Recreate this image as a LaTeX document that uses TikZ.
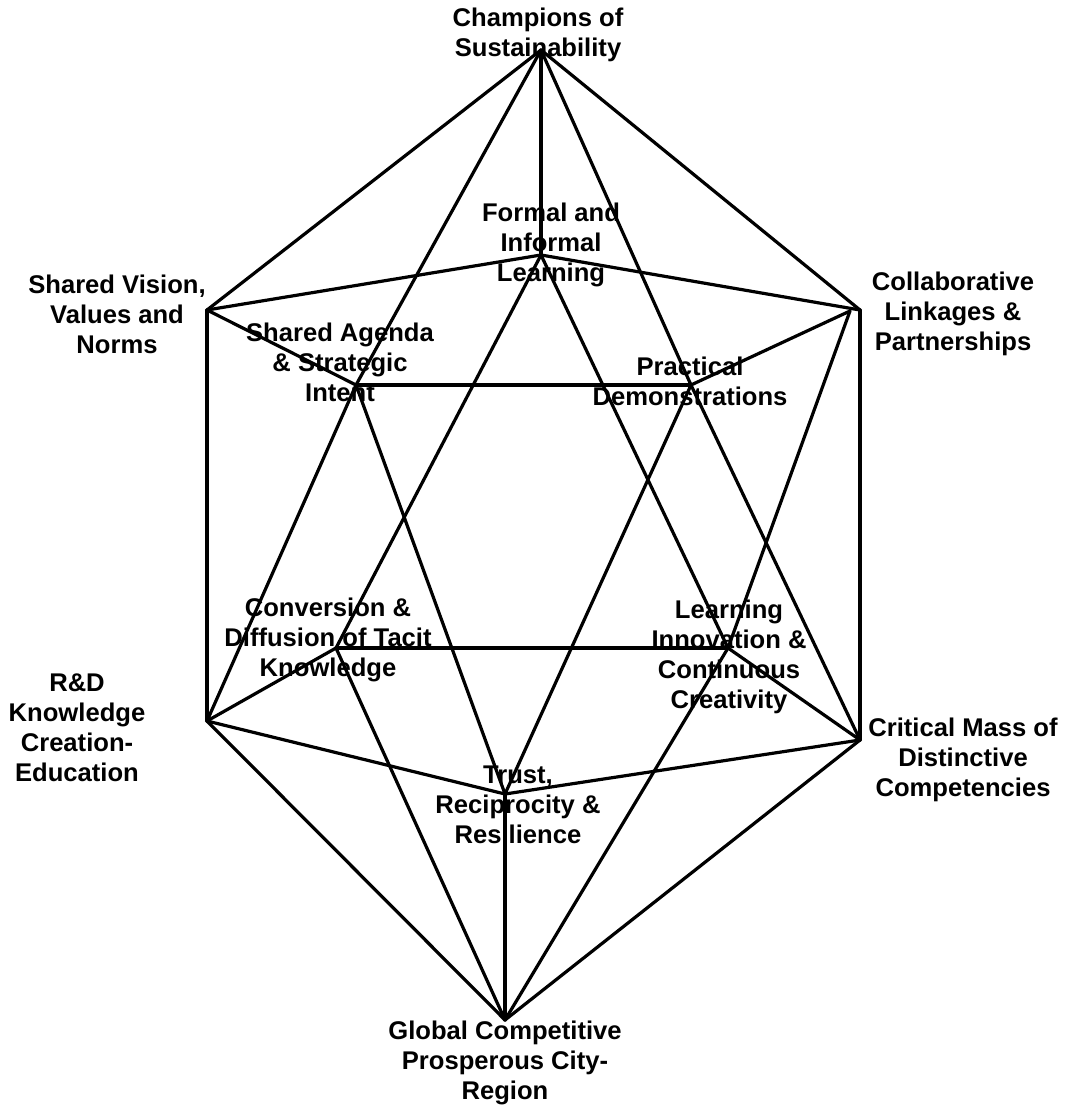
\documentclass[tikz,border=0pt]{standalone}
\usepackage{fontspec}
\setmainfont{Liberation Sans}
\begin{document}
\begin{tikzpicture}[x=1pt,y=-1pt,
  edge/.style={line width=3.2pt,line join=round,line cap=round},
  lbl/.style={align=center,inner sep=0pt,font=\fontsize{25.6}{30}\selectfont\bfseries}]
\useasboundingbox (0,0) rectangle (1067,1110);
% vertices of the solid
\coordinate (T)   at (541,50);
\coordinate (UL)  at (207,310);
\coordinate (F)   at (541,255);
\coordinate (UR)  at (860,310);
\coordinate (URi) at (850,311);
\coordinate (SA)  at (356,385);
\coordinate (PD)  at (691,385);
\coordinate (CD)  at (336,648);
\coordinate (LI)  at (728,648);
\coordinate (LL)  at (207,721);
\coordinate (LR)  at (860,740);
\coordinate (TR)  at (505,794);
\coordinate (B)   at (505,1020);
% upper cap
\draw[edge] (T) -- (UL);
\draw[edge] (T) -- (SA);
\draw[edge] (T) -- (F);
\draw[edge] (T) -- (PD);
\draw[edge] (T) -- (UR);
\draw[edge] (UL) -- (F);
\draw[edge] (F) -- (UR);
\draw[edge] (URi) -- (PD);
\draw[edge] (PD) -- (SA);
\draw[edge] (SA) -- (UL);
% middle band
\draw[edge] (UL) -- (LL);
\draw[edge] (SA) -- (LL);
\draw[edge] (SA) -- (TR);
\draw[edge] (F) -- (CD);
\draw[edge] (F) -- (LI);
\draw[edge] (PD) -- (TR);
\draw[edge] (PD) -- (LR);
\draw[edge] (URi) -- (LI);
\draw[edge] (UR) -- (LR);
% lower cap
\draw[edge] (LL) -- (CD);
\draw[edge] (CD) -- (LI);
\draw[edge] (LI) -- (LR);
\draw[edge] (LR) -- (TR);
\draw[edge] (TR) -- (LL);
\draw[edge] (B) -- (LL);
\draw[edge] (B) -- (CD);
\draw[edge] (B) -- (TR);
\draw[edge] (B) -- (LI);
\draw[edge] (B) -- (LR);
% labels
\node[lbl] (lT)  at (538,35)   {Champions of\\Sustainability};
\node[lbl] (lF)  at (551,245)  {Formal and\\Informal\\Learning};
\node[lbl] (lUL) at (117,314)  {Shared Vision,\\Values and\\Norms};
\node[lbl] (lSA) at (340,362)  {Shared Agenda\\\& Strategic\\Intent};
\node[lbl] (lUR) at (953,314)  {Collaborative\\Linkages \&\\Partnerships};
\node[lbl] (lPD) at (690,381)  {Practical\\Demonstrations};
\node[lbl] (lCD) at (328,640)  {Conversion \&\\Diffusion of Tacit\\Knowledge};
\node[lbl] (lLI) at (729,657)  {Learning\\Innovation \&\\Continuous\\Creativity};
\node[lbl] (lLL) at (77,728)   {R\&D\\Knowledge\\Creation-\\Education};
\node[lbl] (lLR) at (963,760)  {Critical Mass of\\Distinctive\\Competencies};
\node[lbl] (lTR) at (518,805)  {Trust,\\Reciprocity \&\\Resilience};
\node[lbl] (lB)  at (505,1063) {Global Competitive\\Prosperous City-\\Region};
\end{tikzpicture}
\end{document}
